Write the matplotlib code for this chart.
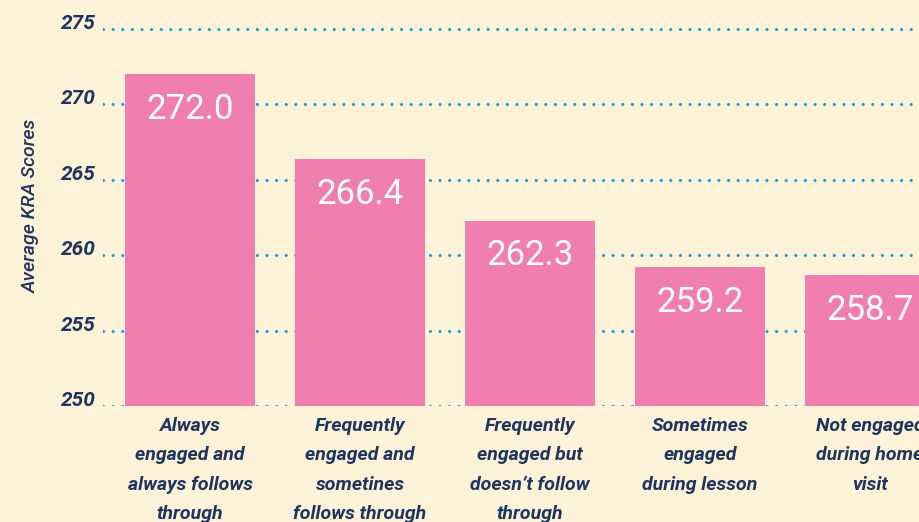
import matplotlib
matplotlib.use('Agg')
import matplotlib.pyplot as plt

# data
categories = [
    'Always\nengaged and\nalways follows\nthrough',
    'Frequently\nengaged and\nsometines\nfollows through',
    'Frequently\nengaged but\ndoesn\u2019t follow\nthrough',
    'Sometimes\nengaged\nduring lesson',
    'Not engaged\nduring home\nvisit',
]
scores = [272.0, 266.4, 262.3, 259.2, 258.7]
yticks = [250, 255, 260, 265, 270, 275]

BG = '#fef3d8'
PINK = '#f07fb0'
BLUE = '#1a9ddc'
NAVY = '#1e3560'
LABEL_FONT = ['Roboto', 'DejaVu Sans']

W, H = 919, 522
fig = plt.figure(figsize=(W / 100, H / 100), dpi=100, facecolor=BG)

# pixel layout: bar pitch 170px, first bar centre at x=190, y=250 at 406px
pitch = 170.0
x0_px = 190.0
left_px = 103.0
xlo = (left_px - x0_px) / pitch
xhi = 4.75
ppu = 15.08
ylo, yhi = 250, 276
bottom_px = 406.0
ax_w = (xhi - xlo) * pitch
ax_h = (yhi - ylo) * ppu
ax = fig.add_axes([left_px / W, (H - bottom_px) / H, ax_w / W, ax_h / H])
ax.set_facecolor(BG)

xs = list(range(len(scores)))
ax.bar(xs, [s - ylo for s in scores], bottom=ylo, width=130 / pitch,
       color=PINK, zorder=2)

for x, s in zip(xs, scores):
    ax.annotate(f'{s:.1f}', (x, s), xytext=(0, -25.5), textcoords='offset points',
                ha='center', va='center', color='white', fontsize=25,
                family='Roboto', zorder=3)

ax.set_xlim(xlo, xhi)
ax.set_ylim(ylo, yhi)
ax.set_yticks(yticks)
ax.set_yticklabels([str(t) for t in yticks])
ax.set_xticks(xs)
ax.set_xticklabels(categories)

ax.grid(axis='y', color=BLUE, linewidth=2.3, linestyle=(0, (0.01, 3.0)),
        dash_capstyle='round', zorder=0)
ax.set_axisbelow(True)

for sp in ax.spines.values():
    sp.set_visible(False)
ax.tick_params(length=0)
ax.tick_params(axis='y', pad=5)
ax.tick_params(axis='x', pad=8)

for lab in ax.get_yticklabels():
    lab.set_va('baseline')
    lab.set_fontsize(15)
    lab.set_fontstyle('italic')
    lab.set_fontweight('bold')
    lab.set_family(LABEL_FONT)
    lab.set_color(NAVY)

for lab in ax.get_xticklabels():
    lab.set_fontsize(14)
    lab.set_fontstyle('italic')
    lab.set_fontweight('bold')
    lab.set_family(LABEL_FONT)
    lab.set_color(NAVY)
    lab.set_linespacing(1.8)

fig.text(31 / W, 1 - 206 / H, 'Average KRA Scores', rotation=90,
         ha='center', va='center', fontsize=14, fontstyle='italic',
         fontweight='medium', family=['Roboto', 'DejaVu Sans'], color=NAVY)

fig.savefig('out.png', dpi=100, facecolor=BG)
